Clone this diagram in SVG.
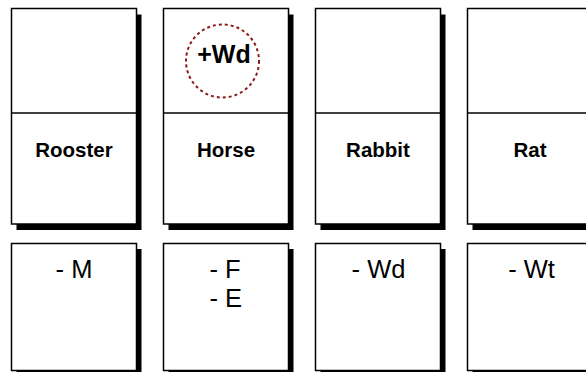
<svg xmlns="http://www.w3.org/2000/svg" width="586" height="372" viewBox="0 0 586 372">
<style>
.box{fill:#fff;stroke:#000;stroke-width:1.5}
.sh{fill:#000}
.div{stroke:#000;stroke-width:1.5}
.lbl{font-family:"Liberation Sans",Arial,sans-serif;font-weight:bold;font-size:20.5px;text-anchor:middle;fill:#000}
.note{font-family:"Liberation Sans",Arial,sans-serif;font-size:25.5px;fill:#000}
.mark{fill:none;stroke:#8B1A1A;stroke-width:2;stroke-dasharray:3 3}
</style>
<rect width="586" height="372" fill="#fff"/>
<g id="rooster">
<rect class="sh" x="16.5" y="14.5" width="125" height="215.5"/>
<rect class="box" x="11.5" y="8.5" width="125" height="215.5"/>
<line class="div" x1="11.5" y1="113" x2="136.5" y2="113"/>
<text class="lbl" x="74" y="156.5">Rooster</text>
</g>
<g id="horse">
<rect class="sh" x="168.5" y="14.5" width="125" height="215.5"/>
<rect class="box" x="163.5" y="8.5" width="125" height="215.5"/>
<line class="div" x1="163.5" y1="113" x2="288.5" y2="113"/>
<text class="lbl" x="226" y="156.5">Horse</text>
<circle class="mark" cx="222.5" cy="61" r="36.5"/>
<text class="lbl" x="224" y="63" style="font-size:25px">+Wd</text>
</g>
<g id="rabbit">
<rect class="sh" x="320.5" y="14.5" width="125" height="215.5"/>
<rect class="box" x="315.5" y="8.5" width="125" height="215.5"/>
<line class="div" x1="315.5" y1="113" x2="440.5" y2="113"/>
<text class="lbl" x="378" y="156.5">Rabbit</text>
</g>
<g id="rat">
<rect class="sh" x="472.5" y="14.5" width="125" height="215.5"/>
<rect class="box" x="467.5" y="8.5" width="125" height="215.5"/>
<line class="div" x1="467.5" y1="113" x2="592.5" y2="113"/>
<text class="lbl" x="530" y="156.5">Rat</text>
</g>
<g id="rooster-notes">
<rect class="sh" x="16.5" y="249" width="125" height="127"/>
<rect class="box" x="11.5" y="243.5" width="125" height="127"/>
<text class="note" x="74" y="278" text-anchor="middle">- M</text>
</g>
<g id="horse-notes">
<rect class="sh" x="168.5" y="249" width="125" height="127"/>
<rect class="box" x="163.5" y="243.5" width="125" height="127"/>
<text class="note" x="209.5" y="278">- F</text>
<text class="note" x="209.5" y="306.5">- E</text>
</g>
<g id="rabbit-notes">
<rect class="sh" x="320.5" y="249" width="125" height="127"/>
<rect class="box" x="315.5" y="243.5" width="125" height="127"/>
<text class="note" x="378.5" y="278" text-anchor="middle">- Wd</text>
</g>
<g id="rat-notes">
<rect class="sh" x="472.5" y="249" width="125" height="127"/>
<rect class="box" x="467.5" y="243.5" width="125" height="127"/>
<text class="note" x="531.5" y="278" text-anchor="middle">- Wt</text>
</g>
<g id="connectors"></g>
</svg>
